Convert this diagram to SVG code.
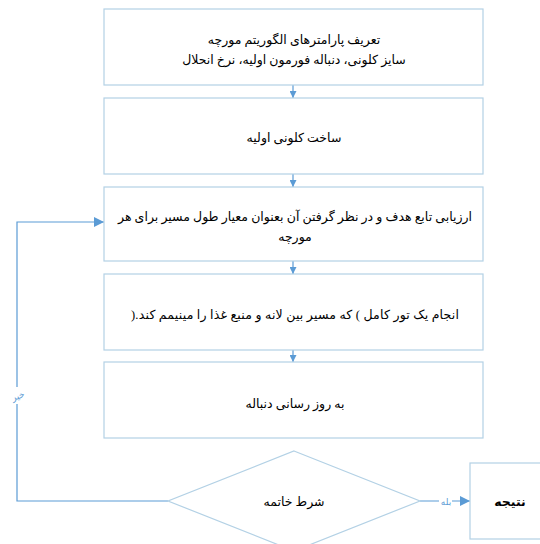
<svg xmlns="http://www.w3.org/2000/svg" width="540" height="544" viewBox="0 0 540 544">
<style>
.box{fill:#ffffff;stroke:#b3d1e5;stroke-width:1.2}
.t{font-family:"Liberation Serif","DejaVu Sans",serif;font-size:12.5px;fill:#000;text-anchor:middle;direction:rtl}
.c{fill:none;stroke:#5b9bd5;stroke-width:1.2}
.lbl{font-family:"Liberation Serif","DejaVu Sans",serif;font-size:9px;fill:#5b9bd5;text-anchor:middle;direction:rtl}
</style>
<defs>
<marker id="ah" viewBox="0 0 10 10" refX="10" refY="5" markerWidth="7" markerHeight="7" markerUnits="userSpaceOnUse" orient="auto">
<path d="M0,0 L10,5 L0,10 z" fill="#5b9bd5"/>
</marker>
<marker id="ahb" viewBox="0 0 10 10" refX="10" refY="5" markerWidth="10" markerHeight="10" markerUnits="userSpaceOnUse" orient="auto">
<path d="M0,0 L10,5 L0,10 z" fill="#5b9bd5"/>
</marker>
</defs>
<rect width="540" height="544" fill="#ffffff"/>
<g id="connectors">
<line class="c" x1="293" y1="85" x2="293" y2="98" marker-end="url(#ah)"/>
<line class="c" x1="293" y1="174" x2="293" y2="187" marker-end="url(#ah)"/>
<line class="c" x1="293" y1="261" x2="293" y2="274" marker-end="url(#ah)"/>
<line class="c" x1="293" y1="350" x2="293" y2="362" marker-end="url(#ah)"/>
<polyline class="c" points="168,501 17,501 17,222 104,222" marker-end="url(#ahb)"/>
<line class="c" x1="420" y1="501" x2="470" y2="501" marker-end="url(#ahb)"/>
<rect x="10" y="387" width="16" height="17" fill="#ffffff"/>
<text class="lbl" x="18" y="399" transform="rotate(-20 18 396)">خیر</text>
<rect x="439" y="495" width="13" height="12" fill="#ffffff"/>
<text class="lbl" x="446" y="505">بله</text>
</g>
<g id="n1">
<rect class="box" x="104" y="9" width="379" height="76"/>
<text class="t" x="294" y="44">تعریف پارامترهای الگوریتم مورچه</text>
<text class="t" x="294" y="64">سایز کلونی، دنباله فورمون اولیه، نرخ انحلال</text>
</g>
<g id="n2">
<rect class="box" x="104" y="98" width="379" height="76"/>
<text class="t" x="294" y="142">ساخت کلونی اولیه</text>
</g>
<g id="n3">
<rect class="box" x="104" y="187" width="379" height="74"/>
<text class="t" x="295" y="221" textLength="354" lengthAdjust="spacing">ارزیابی تابع هدف و در نظر گرفتن آن بعنوان معیار طول مسیر برای هر</text>
<text class="t" x="295" y="241">مورچه</text>
</g>
<g id="n4">
<rect class="box" x="104" y="274" width="379" height="76"/>
<text class="t" x="295" y="319" textLength="328" lengthAdjust="spacing">انجام یک تور کامل ) که مسیر بین لانه و منبع غذا را مینیمم کند.(</text>
</g>
<g id="n5">
<rect class="box" x="104" y="362" width="379" height="76"/>
<text class="t" x="295" y="408">به روز رسانی دنباله</text>
</g>
<g id="n6">
<polygon class="box" points="294,451 420,501 294,551 168,501"/>
<text class="t" x="294" y="506">شرط خاتمه</text>
</g>
<g id="n7">
<rect class="box" x="470" y="463" width="80" height="76"/>
<text class="t" x="510" y="506" style="font-weight:bold">نتیجه</text>
</g>
</svg>
